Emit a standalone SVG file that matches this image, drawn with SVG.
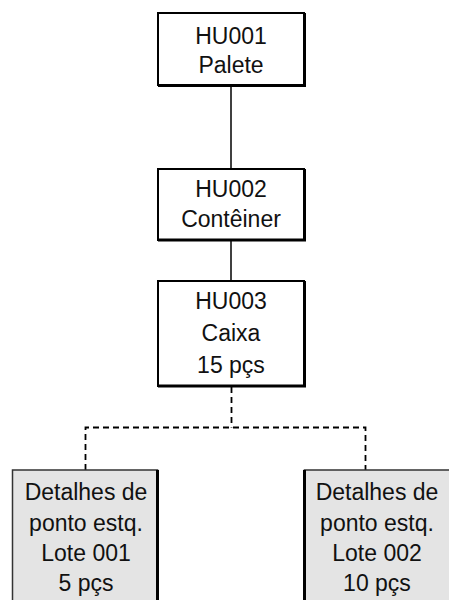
<svg xmlns="http://www.w3.org/2000/svg" width="449" height="600" viewBox="0 0 449 600">
<style>
.box{fill:#ffffff;stroke:#000;stroke-width:2}
.grey{fill:#e4e4e4;stroke:#333;stroke-width:1.5}
.sh{stroke:#000;stroke-width:3;fill:none}
.t{font-family:"Liberation Sans",Arial,sans-serif;font-size:23px;fill:#111;text-anchor:middle}
.solid{stroke:#000;stroke-width:1.5;fill:none}
.dash{stroke:#000;stroke-width:1.8;fill:none;stroke-dasharray:6 4}
</style>
<rect width="449" height="600" fill="#fff"/>
<g id="connectors">
<line class="solid" x1="231" y1="86" x2="231" y2="169"/>
<line class="solid" x1="231" y1="240" x2="231" y2="281"/>
<path class="dash" d="M231.5 387 V427.5 M85.5 470 V427.5 H365.5 V470"/>
</g>
<g id="hu001">
<rect class="box" x="158" y="13" width="146" height="72"/>
<path class="sh" d="M158 85.5 H304.5 V13"/>
<text class="t" x="231" y="44">HU001</text>
<text class="t" x="231" y="73">Palete</text>
</g>
<g id="hu002">
<rect class="box" x="158" y="169" width="146" height="71"/>
<path class="sh" d="M158 240 H304.5 V169"/>
<text class="t" x="231" y="197">HU002</text>
<text class="t" x="231" y="227">Contêiner</text>
</g>
<g id="hu003">
<rect class="box" x="158" y="281" width="146" height="105"/>
<path class="sh" d="M158 386 H304.5 V281"/>
<text class="t" x="231" y="309">HU003</text>
<text class="t" x="231" y="341">Caixa</text>
<text class="t" x="231" y="373">15 pçs</text>
</g>
<g id="lote001">
<rect class="grey" x="12.5" y="470" width="145" height="140"/>
<line class="sh" x1="157.5" y1="470" x2="157.5" y2="600"/>
<text class="t" x="86" y="500">Detalhes de</text>
<text class="t" x="86" y="531">ponto estq.</text>
<text class="t" x="86" y="561">Lote 001</text>
<text class="t" x="86" y="591">5 pçs</text>
</g>
<g id="lote002">
<rect class="grey" x="304.5" y="470" width="150" height="140"/>
<line class="sh" x1="304.5" y1="470" x2="304.5" y2="600"/>
<text class="t" x="377" y="500">Detalhes de</text>
<text class="t" x="377" y="531">ponto estq.</text>
<text class="t" x="377" y="561">Lote 002</text>
<text class="t" x="377" y="591">10 pçs</text>
</g>
</svg>
